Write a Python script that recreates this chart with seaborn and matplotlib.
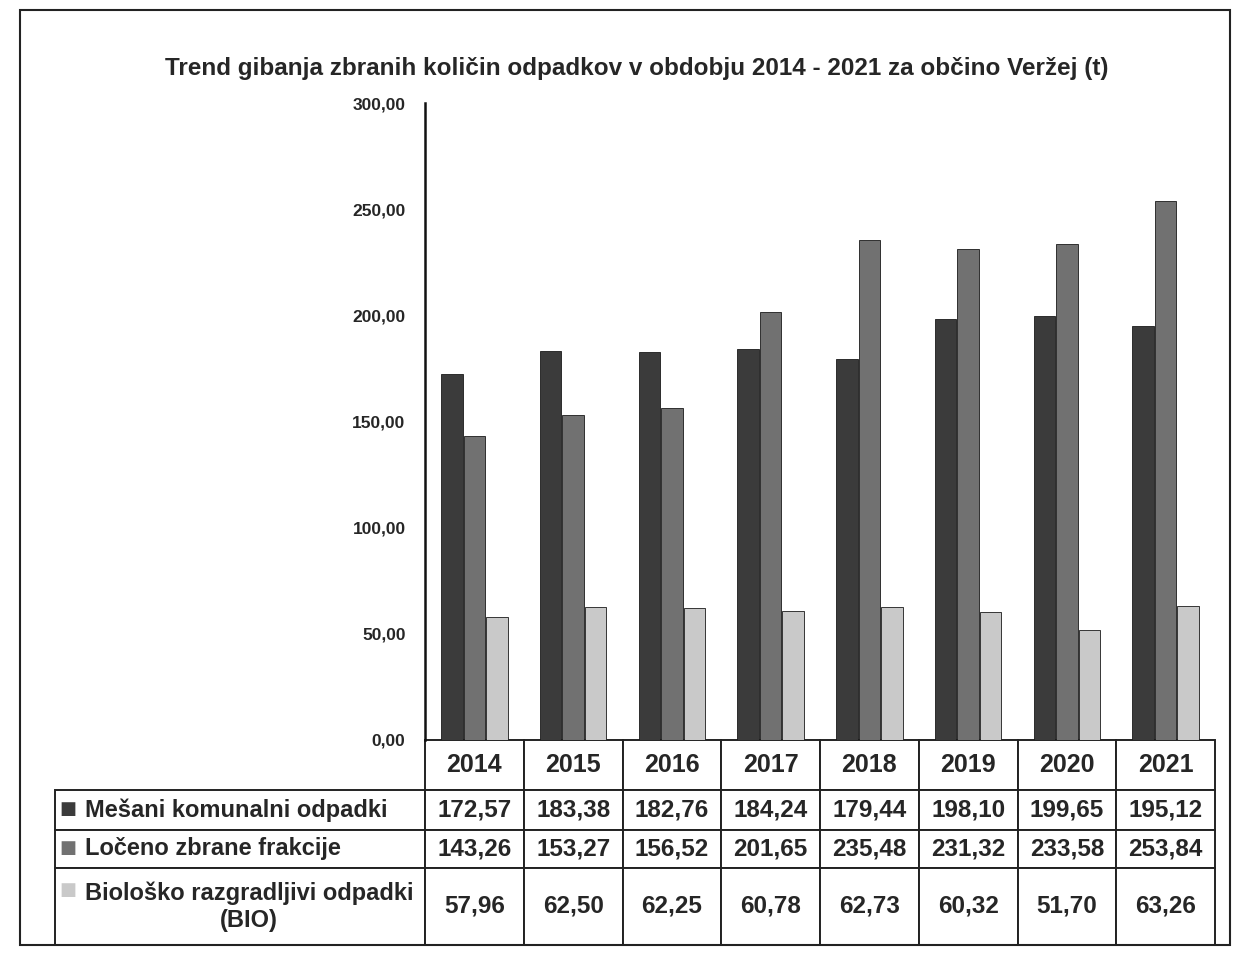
import matplotlib
matplotlib.use("Agg")
import matplotlib.pyplot as plt
import seaborn as sns
import pandas as pd
from matplotlib.patches import Rectangle

sns.set_style("white")
plt.rcParams["font.family"] = ["Liberation Sans", "DejaVu Sans"]

# Data (t)
years = ["2014", "2015", "2016", "2017", "2018", "2019", "2020", "2021"]
mesani = [172.57, 183.38, 182.76, 184.24, 179.44, 198.10, 199.65, 195.12]
loceno = [143.26, 153.27, 156.52, 201.65, 235.48, 231.32, 233.58, 253.84]
bio = [57.96, 62.50, 62.25, 60.78, 62.73, 60.32, 51.70, 63.26]

series_names = [
    "Mešani komunalni odpadki",
    "Ločeno zbrane frakcije",
    "Biološko razgradljivi odpadki\n(BIO)",
]
colors = ["#3b3b3b", "#717171", "#c9c9c9"]

df = pd.DataFrame({
    "Leto": years * 3,
    "Serija": [series_names[0]] * 8 + [series_names[1]] * 8 + [series_names[2]] * 8,
    "Količina": mesani + loceno + bio,
})

W, H = 1238, 957
fig = plt.figure(figsize=(W / 100, H / 100), dpi=100)

# outer frame of the scanned chart
fig.patches.append(Rectangle((20 / W, 1 - 945 / H), 1210 / W, 935 / H,
                             transform=fig.transFigure, fill=False,
                             edgecolor="#222222", linewidth=1.5))

ax_l, ax_r, ax_t, ax_b = 425, 1215, 103, 740
ax = fig.add_axes([ax_l / W, 1 - ax_b / H, (ax_r - ax_l) / W, (ax_b - ax_t) / H])

sns.barplot(
    data=df, x="Leto", y="Količina", hue="Serija",
    palette=colors, width=0.68, gap=0.04, legend=False, ax=ax,
    edgecolor="#1a1a1a", linewidth=0.6,
)

ax.set_ylim(0, 300)
ax.set_xlim(-0.5, 7.5)
ax.set_yticks(range(0, 301, 50))
ax.set_yticklabels([f"{v:.2f}".replace(".", ",") for v in range(0, 301, 50)],
                   fontsize=12.5, fontweight="bold")
ax.tick_params(axis="y", length=0, pad=14)
ax.set_xticks([])
ax.set_xlabel("")
ax.set_ylabel("")
for side in ["top", "right", "bottom"]:
    ax.spines[side].set_visible(False)
ax.spines["left"].set_color("#111111")
ax.spines["left"].set_linewidth(1.8)

fig.text(637 / W, 1 - 68 / H,
         "Trend gibanja zbranih količin odpadkov v obdobju 2014 - 2021 za občino Veržej (t)",
         ha="center", va="center", fontsize=17.5, fontweight="bold")

# data table under the chart
fmt = lambda v: f"{v:.2f}".replace(".", ",")
cell_text = [[""] + years]
for name, vals in zip(series_names, [mesani, loceno, bio]):
    cell_text.append([name] + [fmt(v) for v in vals])

ax_w = ax_r - ax_l
ax_h = ax_b - ax_t
tbl_left, tbl_right, tbl_bottom = 55, 1215, 945
tbl = ax.table(
    cellText=cell_text,
    cellLoc="center",
    bbox=[(tbl_left - ax_l) / ax_w, -(tbl_bottom - ax_b) / ax_h,
          (tbl_right - tbl_left) / ax_w, (tbl_bottom - ax_b) / ax_h],
)
tbl.auto_set_font_size(False)
row_h = [50, 40, 38, 77]
label_w = ax_l - tbl_left
data_w = ax_w / 8
for (r, c), cell in tbl.get_celld().items():
    cell.set_height(row_h[r])
    cell.set_width(label_w if c == 0 else data_w)
    cell.set_linewidth(1.4)
    cell.set_edgecolor("#222222")
    txt = cell.get_text()
    txt.set_fontsize(18 if r == 0 else 17.5)
    txt.set_fontweight("bold")
    if c == 0:
        if r == 0:
            cell.visible_edges = ""
        else:
            cell.PAD = 0.08
            txt.set_fontsize(17)
            cell._loc = "left"
            txt.set_ha("left")
            txt.set_multialignment("center")

# legend keys in the table row labels
for y_px, col in zip([809, 848, 890], colors):
    fig.text(68 / W, 1 - y_px / H, "■", color=col, fontsize=13,
             ha="center", va="center", family=["DejaVu Sans"])

fig.savefig("out.png", dpi=100)
